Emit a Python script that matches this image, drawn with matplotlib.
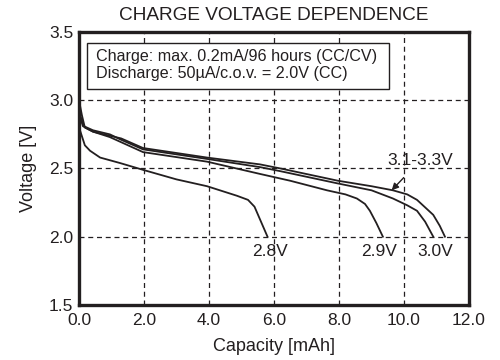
import matplotlib
matplotlib.use("Agg")
import matplotlib.pyplot as plt
from matplotlib.patches import Rectangle

plt.rcParams['font.family'] = ['Liberation Sans', 'DejaVu Sans']

# Capacity [mAh] and voltage [V] for each charge voltage
cap_28 = [0.0, 0.03, 0.18, 0.34, 0.65, 1.26, 1.97, 3.0, 3.94, 4.86, 5.2, 5.4, 5.6, 5.8]
v_28 = [3.0, 2.78, 2.67, 2.63, 2.58, 2.54, 2.49, 2.42, 2.37, 2.30, 2.27, 2.22, 2.11, 2.0]

cap_29 = [0.0, 0.03, 0.12, 0.43, 0.95, 1.97, 3.94, 5.57, 6.5, 7.63, 8.2, 8.55, 8.8, 8.95, 9.15, 9.35]
v_29 = [3.0, 2.88, 2.81, 2.77, 2.73, 2.62, 2.55, 2.46, 2.41, 2.34, 2.31, 2.28, 2.24, 2.19, 2.10, 2.0]

cap_30 = [0.0, 0.05, 0.15, 0.43, 0.95, 1.3, 1.97, 3.94, 5.57, 6.2, 7.97, 9.0, 9.66, 10.1, 10.4, 10.65, 10.9]
v_30 = [3.0, 2.88, 2.81, 2.78, 2.75, 2.71, 2.64, 2.57, 2.51, 2.48, 2.39, 2.34, 2.28, 2.23, 2.19, 2.11, 2.0]

cap_31 = [0.0, 0.09, 0.18, 0.43, 0.95, 1.3, 1.97, 3.94, 5.57, 6.2, 7.97, 9.0, 9.66, 10.1, 10.4, 10.9, 11.1, 11.26]
v_31 = [3.0, 2.89, 2.80, 2.77, 2.74, 2.72, 2.65, 2.58, 2.53, 2.50, 2.41, 2.37, 2.34, 2.31, 2.27, 2.16, 2.08, 2.0]

series = [(cap_28, v_28), (cap_29, v_29), (cap_30, v_30), (cap_31, v_31)]

curve_labels = ["2.8V", "2.9V", "3.0V", "3.1-3.3V"]
note_lines = ["Charge: max. 0.2mA/96 hours (CC/CV)", "Discharge: 50\u00b5A/c.o.v. = 2.0V (CC)"]
x_ticks = [0.0, 2.0, 4.0, 6.0, 8.0, 10.0, 12.0]
y_ticks = [1.5, 2.0, 2.5, 3.0, 3.5]

ink = '#231f20'
fig = plt.figure(figsize=(5, 3.6), dpi=100)
ax = fig.add_axes([0.158, 0.153, 0.78, 0.758])

for c, v in series:
    ax.plot(c, v, color=ink, lw=1.3)

ax.set_xlim(0, 12)
ax.set_ylim(1.5, 3.5)
ax.set_xticks(x_ticks)
ax.set_xticklabels([f"{t:.1f}" for t in x_ticks])
ax.set_yticks(y_ticks)
ax.set_yticklabels([f"{t:.1f}" for t in y_ticks])
ax.tick_params(axis='y', length=0, labelsize=12.5, pad=4, colors=ink)
ax.tick_params(axis='x', length=0, labelsize=12.5, pad=6, colors=ink)

for xv in x_ticks[1:-1]:
    ax.axvline(xv, color=ink, lw=0.9, ls=(0, (4, 3)), zorder=0)
for yv in y_ticks[1:-1]:
    ax.axhline(yv, color=ink, lw=0.9, ls=(0, (4, 3)), zorder=0)

for s in ax.spines.values():
    s.set_linewidth(2.4)
    s.set_color(ink)

ax.set_xlabel("Capacity [mAh]", fontsize=13, color=ink, labelpad=7)
ax.set_ylabel("Voltage [V]", fontsize=13, color=ink, labelpad=9)
ax.set_title("CHARGE VOLTAGE DEPENDENCE", fontsize=13.7, color=ink, pad=9)

ax.add_patch(Rectangle((0.25, 3.08), 9.29, 0.34, fc='white', ec=ink, lw=1.0, zorder=3))
ax.text(0.52, 3.288, note_lines[0], fontsize=11.6, color=ink, va='baseline', ha='left', zorder=4)
ax.text(0.52, 3.163, note_lines[1], fontsize=11.6, color=ink, va='baseline', ha='left', zorder=4)

ax.text(5.88, 1.89, curve_labels[0], fontsize=12.5, ha='center', va='center', color=ink)
ax.text(9.23, 1.89, curve_labels[1], fontsize=12.5, ha='center', va='center', color=ink)
ax.text(10.95, 1.89, curve_labels[2], fontsize=12.5, ha='center', va='center', color=ink)
ax.annotate(curve_labels[3], xy=(9.62, 2.34), xytext=(10.5, 2.56), fontsize=12.5,
            ha='center', va='center', color=ink,
            arrowprops=dict(arrowstyle='-|>', color=ink, lw=1.0, shrinkA=7, shrinkB=0,
                            mutation_scale=10))

fig.savefig("out.png", dpi=100)
